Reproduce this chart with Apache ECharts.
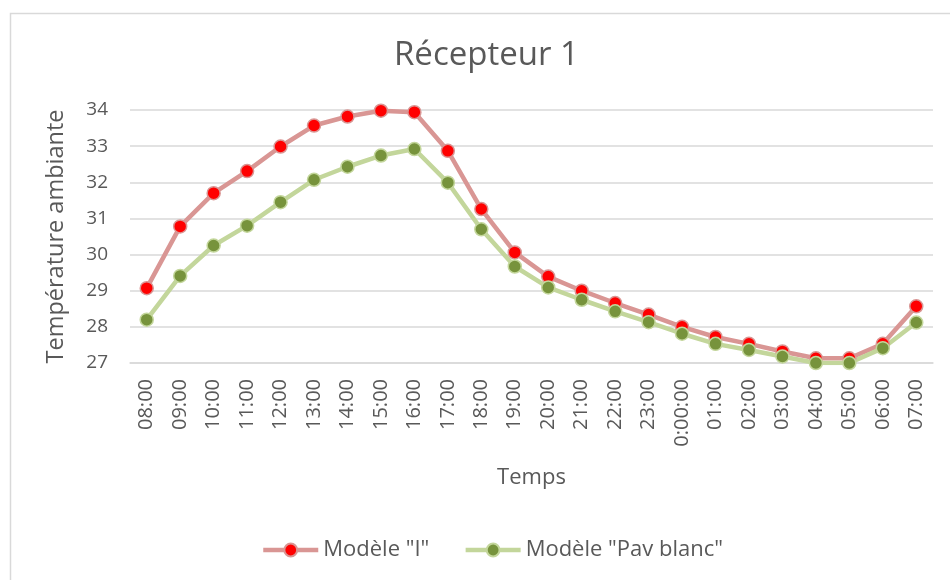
<!DOCTYPE html>
<html>
<head>
<meta charset="utf-8">
<script src="https://cdn.jsdelivr.net/npm/echarts@6/dist/echarts.min.js"></script>
<style>
  html, body { margin: 0; padding: 0; background: #fff; }
  #chart { width: 950px; height: 580px; }
</style>
</head>
<body>
<div id="chart"></div>
<script>
// Hourly ambient temperature at receiver 1
const hours = ['08:00', '09:00', '10:00', '11:00', '12:00', '13:00', '14:00', '15:00',
  '16:00', '17:00', '18:00', '19:00', '20:00', '21:00', '22:00', '23:00', '0:00:00',
  '01:00', '02:00', '03:00', '04:00', '05:00', '06:00', '07:00'];

const modeleI = [29.07, 30.78, 31.70, 32.31, 32.99, 33.57, 33.82, 33.98,
  33.94, 32.87, 31.26, 30.06, 29.39, 29.00, 28.66, 28.34, 28.00,
  27.72, 27.53, 27.32, 27.13, 27.13, 27.53, 28.57];

const modelePavBlanc = [28.20, 29.41, 30.25, 30.80, 31.45, 32.07, 32.43, 32.74,
  32.92, 31.99, 30.70, 29.67, 29.09, 28.75, 28.43, 28.13, 27.81,
  27.53, 27.36, 27.18, 27.00, 27.00, 27.41, 28.12];

const yTicks = { min: 27, max: 34, step: 1 };

const FONT = '"Open Sans", "Liberation Sans", sans-serif';
const TEXT = '#595959';

function lineSeries(name, data, lineColor, dotColor) {
  return {
    name: name,
    type: 'line',
    data: data,
    symbol: 'circle',
    symbolSize: 13,
    lineStyle: { color: lineColor, width: 4.5 },
    itemStyle: { color: dotColor, borderColor: lineColor, borderWidth: 1.5 },
    emphasis: { disabled: true },
    animation: false
  };
}

const chart = echarts.init(document.getElementById('chart'), null, { renderer: 'canvas' });
chart.setOption({
  backgroundColor: '#ffffff',
  textStyle: { fontFamily: FONT },
  graphic: [{
    type: 'rect',
    left: 8, top: 11,
    shape: { width: 960, height: 600 },
    style: { fill: 'none', stroke: '#d9d9d9', lineWidth: 1.5 },
    silent: true
  }],
  title: {
    text: 'Récepteur 1',
    left: 389,
    top: 34,
    textStyle: { fontFamily: FONT, fontSize: 33, fontWeight: 'normal', color: TEXT }
  },
  legend: {
    bottom: 14,
    left: 256,
    itemWidth: 55,
    itemHeight: 16,
    itemGap: 34,
    lineStyle: { width: 'inherit' },
    textStyle: { fontFamily: FONT, fontSize: 22, color: TEXT },
    data: ['Modèle "I"', 'Modèle "Pav blanc"']
  },
  grid: { left: 130, right: 17, top: 110, bottom: 217 },
  xAxis: {
    type: 'category',
    data: hours,
    boundaryGap: true,
    name: 'Temps',
    nameLocation: 'middle',
    nameGap: 104,
    nameTextStyle: { fontFamily: FONT, fontSize: 22, color: TEXT },
    axisLine: { show: true, lineStyle: { color: '#d9d9d9', width: 1.5 } },
    axisTick: { show: false },
    axisLabel: { rotate: 90, fontSize: 20, color: TEXT, fontFamily: FONT, margin: 16, interval: 0 }
  },
  yAxis: {
    type: 'value',
    min: yTicks.min,
    max: yTicks.max,
    interval: yTicks.step,
    name: 'Température ambiante',
    nameLocation: 'middle',
    nameGap: 62,
    nameTextStyle: { fontFamily: FONT, fontSize: 23.5, color: TEXT },
    axisLine: { show: false },
    axisTick: { show: false },
    splitLine: { lineStyle: { color: '#d9d9d9', width: 1.5 } },
    axisLabel: { fontSize: 19, color: TEXT, fontFamily: FONT, margin: 22 }
  },
  series: [
    lineSeries('Modèle "I"', modeleI, '#d99694', '#ff0000'),
    lineSeries('Modèle "Pav blanc"', modelePavBlanc, '#c3d69b', '#77933c')
  ]
});
</script>
</body>
</html>
